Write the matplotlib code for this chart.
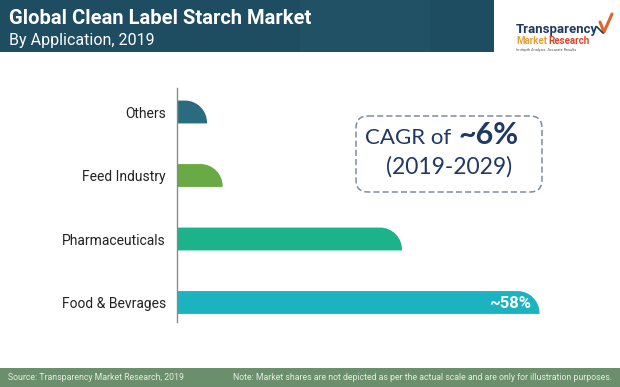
import matplotlib.pyplot as plt
from matplotlib.path import Path
from matplotlib.patches import PathPatch, Rectangle, FancyBboxPatch
from matplotlib.transforms import ScaledTranslation

# data (bottom to top on the chart)
categories = ['Food & Bevrages', 'Pharmaceuticals', 'Feed Industry', 'Others']
shares = [58, 36, 7.3, 4.8]
bar_colors = ['#1bb3bf', '#1db38a', '#69aa45', '#2a6b80']

title = 'Global Clean Label Starch Market'
subtitle = 'By Application, 2019'
source = 'Source: Transparency Market Research, 2019'
note = ('Note: Market shares are not depicted as per the actual scale '
        'and are only for illustration purposes.')

W, H = 620, 387
fig = plt.figure(figsize=(W / 100, H / 100), dpi=100)
fig.patch.set_facecolor('white')

# full-figure canvas in pixel coordinates for header/footer decorations
bg = fig.add_axes([0, 0, 1, 1], zorder=0)
bg.set_xlim(0, W)
bg.set_ylim(H, 0)
bg.axis('off')

# header band
bg.add_patch(Rectangle((0, 0), 494, 52, facecolor='#1e4c60', edgecolor='none'))
bg.add_patch(Rectangle((300, 0), 130, 52, facecolor='#23566b', edgecolor='none', alpha=0.5))
bg.text(9, 18, title, color='white', fontsize=14.5, fontweight='bold',
        family='Roboto', va='center', ha='left')
bg.text(9, 40, subtitle, color='white', fontsize=11.5,
        family='Roboto', va='center', ha='left')

# logo
bg.text(516, 29, 'Transparency', color='#1f3a60', fontsize=9.5, fontweight='bold',
        family='Roboto', va='center', ha='left')
bg.text(516, 41, 'Market', color='#e2a03a', fontsize=7, fontweight='bold',
        family='Roboto', va='center', ha='left')
bg.text(548, 41, 'Research', color='#d9452c', fontsize=7, fontweight='bold',
        family='Roboto', va='center', ha='left')
bg.text(516, 50, 'In-depth Analysis. Accurate Results', color='#555555', fontsize=2.8,
        family='Roboto', va='center', ha='left')
bg.plot([600, 604, 612], [22, 32, 14], color='#e0662e', lw=2.2, solid_capstyle='round')
bg.plot([597, 603], [27, 33], color='#1f3a60', lw=1.2)

# footer band
bg.add_patch(Rectangle((0, 368), W, H - 368, facecolor='#6b8f6c', edgecolor='none'))
bg.text(8, 378, source, color='#e4ece2', fontsize=6.3, family='Roboto',
        va='center', ha='left')
bg.text(612, 378, note, color='#e4ece2', fontsize=6.3, family='Roboto',
        va='center', ha='right')

# CAGR box
bg.add_patch(FancyBboxPatch((356, 116), 186, 76,
                            boxstyle='round,pad=0,rounding_size=12',
                            facecolor='white', edgecolor='#7d8ca3',
                            linestyle=(0, (4, 2)), linewidth=1.1))
bg.text(451, 144, 'CAGR of', color='#1f3864', fontsize=16, family='Lato',
        va='baseline', ha='right')
bg.text(459, 144, '~6%', color='#1f3864', fontsize=22, fontweight='bold',
        family='Lato', va='baseline', ha='left')
bg.text(449, 174, '(2019-2029)', color='#1f3864', fontsize=16.5, family='Lato',
        va='baseline', ha='center')

# chart axes
left_px, right_px, top_px, bottom_px = 177, 577, 88, 322
ax = fig.add_axes([left_px / W, (H - bottom_px) / H,
                   (right_px - left_px) / W, (bottom_px - top_px) / H], zorder=1)
ax.patch.set_alpha(0)
xmax = 64
ax.set_xlim(0, xmax)
ax.set_ylim(-0.307, 3.378)

bar_h = 0.36
px_x = xmax / (right_px - left_px)
px_y = (3.378 + 0.307) / (bottom_px - top_px)
rx = 22 * px_x
ry = 22 * px_y
k = 0.5523

for i, (val, col) in enumerate(zip(shares, bar_colors)):
    y0 = i - bar_h / 2
    y1 = i + bar_h / 2
    r_x = min(rx, val)
    verts = [
        (0, y0),
        (val, y0),
        (val, y1 - ry),
        (val, y1 - ry + k * ry),
        (val - r_x + k * r_x, y1),
        (val - r_x, y1),
        (0, y1),
        (0, y0),
    ]
    codes = [Path.MOVETO, Path.LINETO, Path.LINETO,
             Path.CURVE4, Path.CURVE4, Path.CURVE4,
             Path.LINETO, Path.CLOSEPOLY]
    ax.add_patch(PathPatch(Path(verts, codes), facecolor=col, edgecolor='none'))

ax.text(shares[0], 0, '~58%', color='white', fontsize=12, fontweight='bold',
        family='Roboto', va='center', ha='right',
        transform=ax.transData + ScaledTranslation(-6 / 72, -1 / 72, fig.dpi_scale_trans))

ax.set_yticks(range(len(categories)))
ax.set_yticklabels(categories, fontsize=10, family='Roboto', color='#222222')
ax.tick_params(axis='y', length=0, pad=8)
ax.set_xticks([])
for s in ['top', 'right', 'bottom']:
    ax.spines[s].set_visible(False)
ax.spines['left'].set_color('#8a8a8a')
ax.spines['left'].set_linewidth(1)

fig.savefig('out.png', dpi=100)
